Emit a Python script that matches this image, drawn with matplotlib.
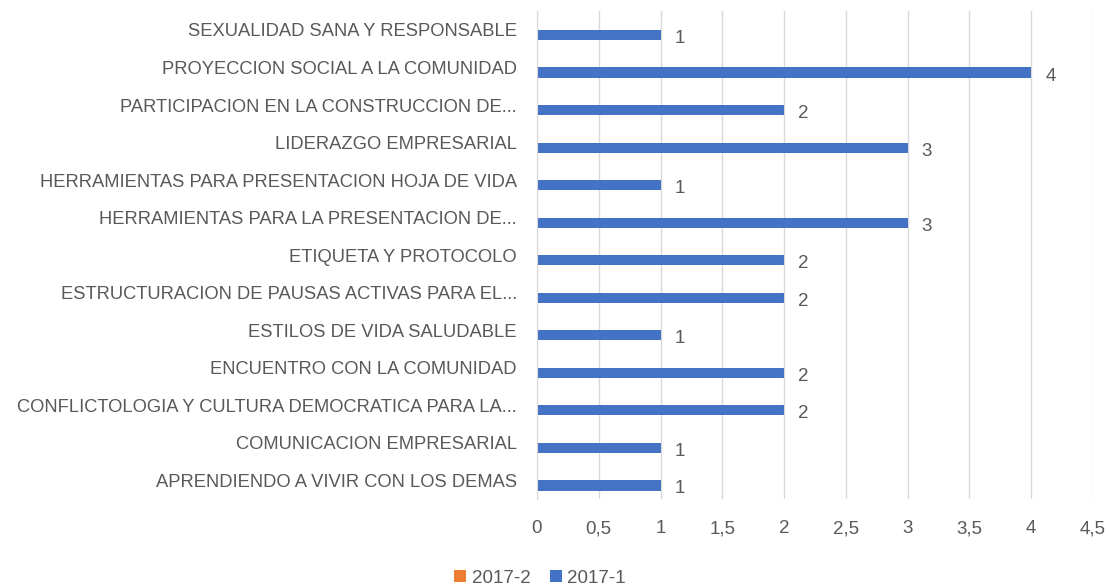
import numpy as np
import matplotlib.pyplot as plt

# categorias, de abajo hacia arriba
categorias = [
    "APRENDIENDO A VIVIR CON LOS DEMAS",
    "COMUNICACION EMPRESARIAL",
    "CONFLICTOLOGIA Y CULTURA DEMOCRATICA PARA LA...",
    "ENCUENTRO CON LA COMUNIDAD",
    "ESTILOS DE VIDA SALUDABLE",
    "ESTRUCTURACION DE PAUSAS ACTIVAS PARA EL...",
    "ETIQUETA Y PROTOCOLO",
    "HERRAMIENTAS PARA LA PRESENTACION DE...",
    "HERRAMIENTAS PARA PRESENTACION HOJA DE VIDA",
    "LIDERAZGO EMPRESARIAL",
    "PARTICIPACION EN LA CONSTRUCCION DE...",
    "PROYECCION SOCIAL A LA COMUNIDAD",
    "SEXUALIDAD SANA Y RESPONSABLE",
]
valores_2017_1 = [1, 1, 2, 2, 1, 2, 2, 3, 1, 3, 2, 4, 1]
valores_2017_2 = [0, 0, 0, 0, 0, 0, 0, 0, 0, 0, 0, 0, 0]
ticks_x = [0, 0.5, 1, 1.5, 2, 2.5, 3, 3.5, 4, 4.5]
ticks_x_txt = ["0", "0,5", "1", "1,5", "2", "2,5", "3", "3,5", "4", "4,5"]

azul = "#4472C4"
naranja = "#ED7D31"
gris = "#595959"

plt.rcParams["font.family"] = ["Liberation Sans", "DejaVu Sans"]

fig = plt.figure(figsize=(11.09, 5.88), dpi=100)
ax = fig.add_axes([0.4842, 0.151, 0.5014, 0.830])

y = np.arange(len(categorias))
alto = 0.27

ax.barh(y + alto / 2, valores_2017_2, height=alto, color=naranja, label="2017-2")
barras = ax.barh(y - alto / 2, valores_2017_1, height=alto, color=azul, label="2017-1")

# etiquetas de datos, un poco por debajo del centro de la barra
for yi, v in zip(y, valores_2017_1):
    ax.annotate(str(v), (v, yi - alto / 2), xytext=(10, -2.5),
                textcoords="offset points", va="center", ha="left",
                fontsize=13.5, color=gris)

ax.set_xlim(0, 4.5)
ax.set_ylim(-0.5, len(categorias) - 0.5)
ax.set_xticks(ticks_x)
ax.set_xticklabels(ticks_x_txt)
ax.set_yticks(y)
ax.set_yticklabels(categorias, fontsize=13.2)

ax.tick_params(axis="x", length=0, labelsize=13.5, labelcolor=gris, pad=15)
ax.tick_params(axis="y", length=0, labelcolor=gris, pad=14.5)

ax.grid(axis="x", color="#d9d9d9", linewidth=1)
ax.set_axisbelow(True)
for lado in ["top", "right", "bottom"]:
    ax.spines[lado].set_visible(False)
ax.spines["left"].set_color("#d9d9d9")

fig.legend(
    loc="center",
    bbox_to_anchor=(0.487, 0.017),
    ncol=2,
    frameon=False,
    fontsize=13.5,
    labelcolor=gris,
    handlelength=0.65,
    handleheight=0.65,
    handletextpad=0.3,
    columnspacing=1.0,
)

fig.savefig("out.png", dpi=100)
